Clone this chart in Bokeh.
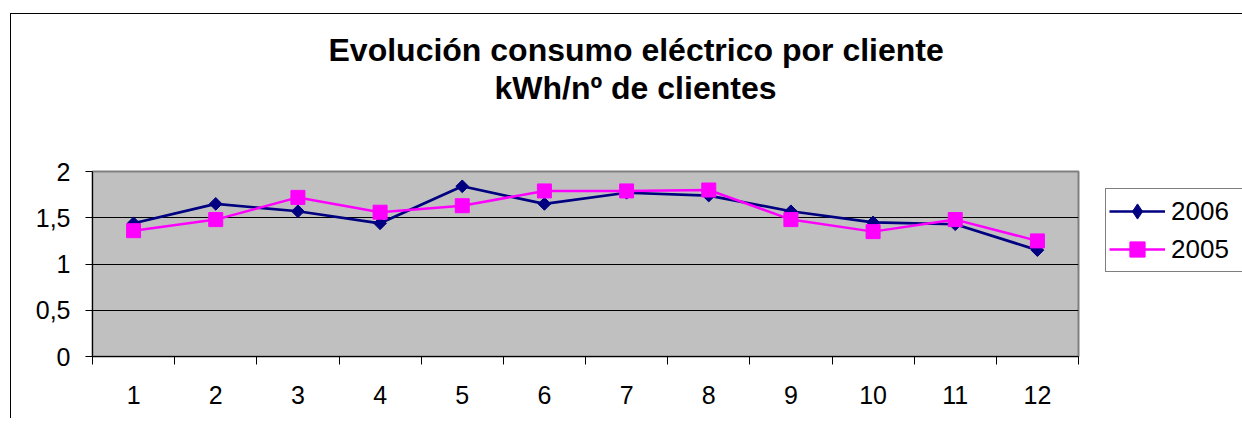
import numpy as np
from bokeh.plotting import figure
from bokeh.models import (Range1d, FixedTicker, Title, Legend, LegendItem,
                          ColumnDataSource)
from bokeh.embed import file_html
from bokeh.resources import INLINE

# ---- data ----
months = ["1", "2", "3", "4", "5", "6", "7", "8", "9", "10", "11", "12"]
series_2006 = [1.44, 1.65, 1.57, 1.44, 1.84, 1.65, 1.77, 1.74, 1.57, 1.45, 1.43, 1.15]
series_2005 = [1.36, 1.48, 1.72, 1.56, 1.63, 1.79, 1.79, 1.80, 1.48, 1.35, 1.48, 1.25]
y_ticks = [0, 0.5, 1, 1.5, 2]
y_tick_labels = ["0", "0,5", "1", "1,5", "2"]
title_lines = ["Evolución consumo eléctrico por cliente", "kWh/nº de clientes"]
series_names = ["2006", "2005"]

FONT = "Liberation Sans"
NAVY = "#000080"
MAGENTA = "#FF00FF"

xpos = list(range(1, len(months) + 1))

p = figure(frame_width=986, frame_height=185, output_backend="svg", toolbar_location=None,
           x_range=Range1d(0.5, len(months) + 0.5), y_range=Range1d(0, 2),
           min_border_left=81, min_border_right=164, min_border_top=157,
           min_border_bottom=62)
p.styles = {"margin-left": "10px", "margin-top": "13px",
            "border-left": "1px solid black", "border-top": "1px solid black"}

p.background_fill_color = "#C0C0C0"
p.border_fill_color = "white"
p.outline_line_color = "#808080"
p.outline_line_width = 2

# grid
p.xgrid.visible = False
p.ygrid.ticker = FixedTicker(ticks=[0.5, 1, 1.5])
p.ygrid.grid_line_color = "black"
p.ygrid.grid_line_width = 1

# y axis
ya = p.yaxis[0]
ya.ticker = FixedTicker(ticks=y_ticks)
ya.major_label_overrides = {t: l for t, l in zip(y_ticks, y_tick_labels)}
ya.major_tick_out = 7
ya.major_tick_in = 0
ya.minor_tick_line_color = None
ya.axis_line_color = "black"
ya.major_tick_line_color = "black"
ya.major_label_text_font = FONT
ya.major_label_text_font_size = "25px"
ya.major_label_text_color = "black"
ya.major_label_standoff = 15

# x axis
xa = p.xaxis[0]
xa.ticker = FixedTicker(ticks=xpos, minor_ticks=[x - 0.5 for x in xpos] + [len(months) + 0.5])
xa.major_label_overrides = {x: m for x, m in zip(xpos, months)}
xa.major_tick_line_color = None
xa.major_tick_out = 8
xa.major_tick_in = 0
xa.minor_tick_out = 8
xa.minor_tick_in = 0
xa.minor_tick_line_color = "black"
xa.axis_line_color = "black"
xa.major_label_text_font = FONT
xa.major_label_text_font_size = "25px"
xa.major_label_text_color = "black"
xa.major_label_standoff = 21

src06 = ColumnDataSource(dict(x=xpos, y=series_2006))
src05 = ColumnDataSource(dict(x=xpos, y=series_2005))

l06 = p.line("x", "y", source=src06, line_color=NAVY, line_width=2.7)
m06 = p.scatter("x", "y", source=src06, marker="square", angle=np.pi / 4, size=9,
                fill_color=NAVY, line_color=NAVY, line_width=1)
# legend-only diamond (not drawn in the plot)
k06 = p.scatter("x", "y", source=src06, marker="diamond", size=15,
                fill_color=NAVY, line_color=NAVY, visible=False)
l05 = p.line("x", "y", source=src05, line_color=MAGENTA, line_width=2.5)
m05 = p.scatter("x", "y", source=src05, marker="square", size=14,
                fill_color=MAGENTA, line_color=MAGENTA, line_width=1)

# blank spacer panel between the frame and the title lines
p.add_layout(Title(text=" ", standoff=53, text_font=FONT, text_font_size="10px"), "above")

# title lines (closest to the frame first)
title_offsets = [402, 236]
for txt, off in zip(reversed(title_lines), title_offsets):
    p.add_layout(Title(text=txt, align="left", offset=off, standoff=0,
                       vertical_align="bottom",
                       text_font=FONT, text_font_size="32px", text_font_style="bold",
                       text_color="black"), "above")

legend = Legend(items=[LegendItem(label=series_names[0], renderers=[l06, k06]),
                       LegendItem(label=series_names[1], renderers=[l05, m05])],
                location=(27, 84))
legend.label_text_font = FONT
legend.label_text_font_size = "26px"
legend.label_text_color = "black"
legend.label_standoff = 6
legend.label_width = 80
legend.glyph_width = 56
legend.glyph_height = 38
legend.spacing = 0
legend.padding = 3
legend.margin = 7
legend.border_line_color = "black"
legend.border_line_width = 1
legend.background_fill_color = "white"
legend.background_fill_alpha = 1
p.add_layout(legend, "right")

open("out.html", "w").write(file_html(p, INLINE))
